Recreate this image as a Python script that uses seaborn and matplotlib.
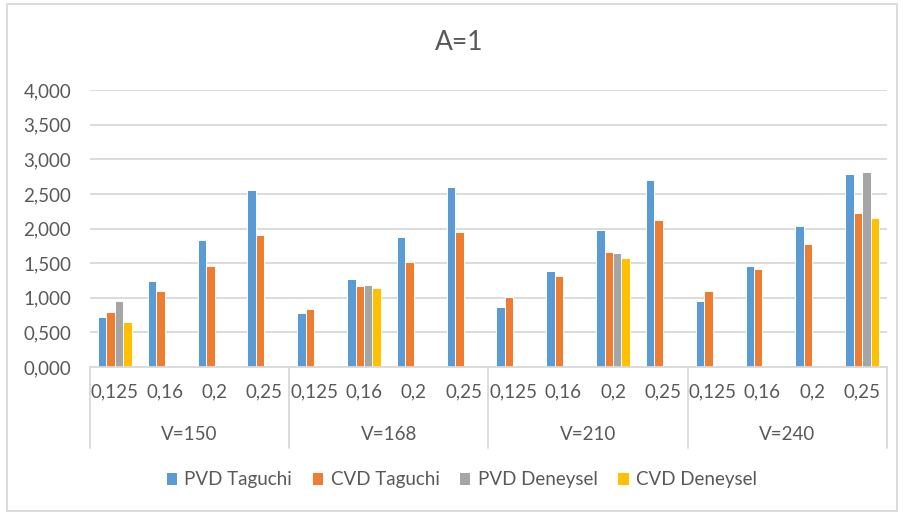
import matplotlib
matplotlib.use('Agg')
import matplotlib.pyplot as plt
import matplotlib.transforms as mtransforms
from matplotlib.patches import Patch, Rectangle
import numpy as np
import pandas as pd
import seaborn as sns

nan = np.nan

v_groups = ['V=150', 'V=168', 'V=210', 'V=240']
f_labels = ['0,125', '0,16', '0,2', '0,25']
series_names = ['PVD Taguchi', 'CVD Taguchi', 'PVD Deneysel', 'CVD Deneysel']
series_colors = ['#5B9BD5', '#ED7D31', '#A5A5A5', '#FFC000']

pvd_taguchi = [0.726, 1.245, 1.828, 2.550,
               0.775, 1.275, 1.871, 2.602,
               0.870, 1.390, 1.972, 2.698,
               0.952, 1.453, 2.035, 2.780]
cvd_taguchi = [0.789, 1.097, 1.453, 1.905,
               0.842, 1.164, 1.520, 1.953,
               1.005, 1.308, 1.664, 2.116,
               1.097, 1.410, 1.779, 2.218]
pvd_deneysel = [0.952, nan, nan, nan,
                nan, 1.179, nan, nan,
                nan, nan, 1.645, nan,
                nan, nan, nan, 2.814]
cvd_deneysel = [0.645, nan, nan, nan,
                nan, 1.135, nan, nan,
                nan, nan, 1.568, nan,
                nan, nan, nan, 2.150]

TEXT = '#595959'
GRID = '#D9D9D9'


def build_frame():
    rows = []
    for name, vals in zip(series_names, [pvd_taguchi, cvd_taguchi, pvd_deneysel, cvd_deneysel]):
        for i, v in enumerate(vals):
            rows.append({'pos': i, 'series': name, 'value': v})
    return pd.DataFrame(rows)


df = build_frame()

sns.set_style('white')
plt.rcParams['font.family'] = ['Lato', 'DejaVu Sans']

W, H = 904, 515
fig = plt.figure(figsize=(W / 100, H / 100), dpi=100)
ax = fig.add_axes([90 / W, 1 - 367 / H, (887 - 90) / W, (367 - 90) / H])

sns.barplot(data=df, x='pos', y='value', hue='series', hue_order=series_names,
            palette=series_colors, saturation=1, width=0.68, edgecolor='white',
            linewidth=0.7, legend=False, ax=ax)

ax.set_ylim(0, 4)
ax.set_xlim(-0.5, 15.5)
ax.set_yticks(np.arange(0, 4.01, 0.5))
ax.set_yticklabels([f'{v:.3f}'.replace('.', ',') for v in np.arange(0, 4.01, 0.5)])
ax.set_xticks(range(16))
ax.set_xticklabels(f_labels * 4)
ax.set_xlabel('')
ax.set_ylabel('')
ax.yaxis.grid(True, color=GRID, linewidth=1.3)
ax.set_axisbelow(True)
for s in ['left', 'right', 'top']:
    ax.spines[s].set_visible(False)
ax.spines['bottom'].set_color(GRID)
ax.spines['bottom'].set_linewidth(1.3)
ax.tick_params(axis='y', length=0, pad=13.5, labelsize=13.5, labelcolor=TEXT)
ax.tick_params(axis='x', length=0, pad=12, labelsize=13.5, labelcolor=TEXT)

# multi-level category axis
trans = mtransforms.blended_transform_factory(ax.transData, fig.transFigure)
for b in [-0.5, 3.5, 7.5, 11.5, 15.5]:
    ax.plot([b, b], [1 - 367 / H, 1 - 448 / H], transform=trans, color=GRID,
            linewidth=1.3, clip_on=False)
for g, name in enumerate(v_groups):
    ax.text(g * 4 + 1.5, 1 - 435 / H, name, transform=trans, ha='center', va='center',
            fontsize=13.5, color=TEXT)

fig.text(459 / W, 1 - 43 / H, 'A=1', ha='center', va='center', fontsize=19, color=TEXT)

handles = [Patch(facecolor=c, edgecolor='none') for c in series_colors]
fig.legend(handles, series_names, loc='center', bbox_to_anchor=(462 / W, 1 - 480 / H),
           ncol=4, frameon=False, fontsize=13.5, labelcolor=TEXT,
           handlelength=0.55, handleheight=0.55, handletextpad=0.4, columnspacing=1.1)

fig.add_artist(Rectangle((7 / W, 1 - 511 / H), (897 - 7) / W, (511 - 4) / H,
                         transform=fig.transFigure, fill=False, edgecolor=GRID,
                         linewidth=1.3))

fig.savefig('out.png', dpi=100)
